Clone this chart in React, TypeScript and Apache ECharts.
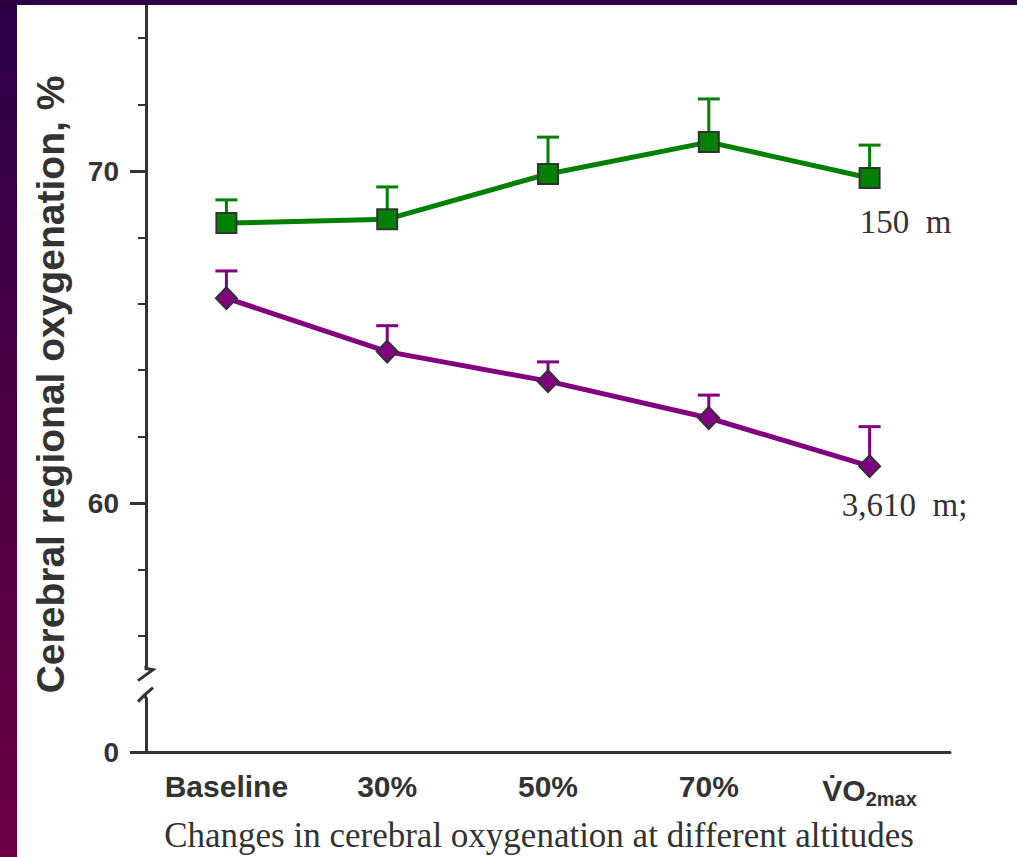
import React, { useEffect, useRef } from "react";
import * as echarts from "echarts";

const categories = ["Baseline", "30%", "50%", "70%", "VO2max"];
const seaLevelMean = [68.43, 68.55, 69.91, 70.87, 69.79];
const seaLevelUpper = [69.13, 69.52, 71.02, 72.17, 70.78];
const altitudeMean = [66.17, 64.56, 63.67, 62.56, 61.11];
const altitudeUpper = [66.99, 65.34, 64.25, 63.25, 62.3];
const minorTicks = [56, 58, 62, 64, 66, 68, 72, 74];
const labelTicks = [52.5, 60, 70];
const seaLabel = "150  m";
const altitudeLabel = "3,610  m;";

const Y_MIN = 52.5;
const Y_MAX = 75;
const GRID_LEFT = 146;

const SANS = "Liberation Sans, Arial, sans-serif";
const SERIF = "Liberation Serif, Times New Roman, serif";
const INK = "#333333";
const GREEN = "#008000";
const PURPLE = "#800080";

function errorBars(color: string, mean: number[], upper: number[]) {
  return {
    type: "custom",
    z: 1,
    data: mean.map((m, i) => [i, m, upper[i]]),
    renderItem: (params: any, api: any) => {
      const base = api.coord([api.value(0), api.value(1)]);
      const top = api.coord([api.value(0), api.value(2)]);
      const half = 11;
      return {
        type: "group",
        children: [
          {
            type: "line",
            shape: { x1: base[0], y1: base[1], x2: top[0], y2: top[1] },
            style: { stroke: color, lineWidth: 3 },
          },
          {
            type: "line",
            shape: { x1: top[0] - half, y1: top[1], x2: top[0] + half, y2: top[1] },
            style: { stroke: color, lineWidth: 3 },
          },
        ],
      };
    },
  };
}

function lineSeries(
  color: string,
  mean: number[],
  symbol: string,
  symbolSize: any,
  label: string,
  offset: number[]
) {
  return {
    type: "line",
    z: 3,
    data: mean.map((v, i) =>
      i === mean.length - 1
        ? {
            value: v,
            label: {
              show: true,
              position: "inside",
              offset,
              formatter: label,
              fontFamily: SERIF,
              fontSize: 33,
              color: INK,
            },
          }
        : v
    ),
    symbol,
    symbolSize,
    lineStyle: { color, width: 5 },
    itemStyle: { color, borderColor: INK, borderWidth: 2 },
    label: { show: false },
  };
}

export default function App() {
  const ref = useRef<HTMLDivElement>(null);

  useEffect(() => {
    if (!ref.current) return;
    const chart = echarts.init(ref.current, null, { renderer: "svg" });
    const option: any = {
      animation: false,
      backgroundColor: "#ffffff",
      grid: {
        left: GRID_LEFT,
        right: 67,
        top: 5,
        bottom: 105,
        containLabel: false,
        outerBoundsMode: "none",
      },
      xAxis: {
        type: "category",
        data: categories,
        boundaryGap: true,
        axisLine: { lineStyle: { color: INK, width: 3 } },
        axisTick: { inside: true, length: 7, lineStyle: { color: INK, width: 2 } },
        axisLabel: {
          interval: 0,
          margin: 19,
          color: INK,
          fontFamily: SANS,
          fontWeight: "bold",
          fontSize: 30,
          formatter: (v: string) =>
            v === "VO2max" ? "{v|V\u0307O}{s|2max}" : v,
          rich: {
            v: { fontFamily: SANS, fontWeight: "bold", fontSize: 30, color: INK },
            s: {
              fontFamily: SANS,
              fontWeight: "bold",
              fontSize: 20,
              color: INK,
              padding: [18, 0, 0, 0],
            },
          },
        },
        name: "Changes in cerebral oxygenation at different altitudes",
        nameLocation: "middle",
        nameGap: 66,
        nameTextStyle: {
          fontFamily: SERIF,
          fontSize: 35,
          color: INK,
          padding: [0, 18, 0, 0],
        },
        splitLine: { show: false },
      },
      yAxis: [
        {
          type: "value",
          min: Y_MIN,
          max: Y_MAX,
          axisLine: { show: true, lineStyle: { color: INK, width: 3 } },
          axisTick: {
            show: true,
            customValues: minorTicks,
            length: 8,
            lineStyle: { color: INK, width: 2 },
          },
          axisLabel: { show: false },
          splitLine: { show: false },
        },
        {
          type: "value",
          min: Y_MIN,
          max: Y_MAX,
          position: "left",
          axisLine: { show: false },
          axisTick: {
            show: true,
            customValues: labelTicks,
            length: 16,
            lineStyle: { color: INK, width: 3 },
          },
          axisLabel: {
            show: true,
            customValues: labelTicks,
            formatter: (v: number) => (v === Y_MIN ? "0" : String(v)),
            margin: 27,
            color: INK,
            fontFamily: SANS,
            fontWeight: "bold",
            fontSize: 28,
          },
          splitLine: { show: false },
          name: "Cerebral regional oxygenation, %",
          nameLocation: "middle",
          nameGap: 76,
          nameTextStyle: {
            fontFamily: SANS,
            fontWeight: "bold",
            fontSize: 39,
            color: INK,
            padding: [0, 12, 0, 0],
          },
        },
      ],
      series: [
        errorBars(GREEN, seaLevelMean, seaLevelUpper),
        errorBars(PURPLE, altitudeMean, altitudeUpper),
        lineSeries(GREEN, seaLevelMean, "rect", 20, seaLabel, [36, 44]),
        lineSeries(PURPLE, altitudeMean, "diamond", [21, 22], altitudeLabel, [35, 39]),
      ],
    };
    chart.setOption(option);

    const yb = chart.convertToPixel({ yAxisIndex: 0 }, 54.5) as number;
    const x = GRID_LEFT;
    const W = 1017;
    const H = 857;
    chart.setOption({
      graphic: [
        {
          type: "rect",
          left: 0,
          top: 0,
          z: 100,
          shape: { width: 17, height: H },
          style: {
            fill: new echarts.graphic.LinearGradient(0, 0, 0, 1, [
              { offset: 0, color: "#2b0046" },
              { offset: 1, color: "#6c0042" },
            ]),
          },
        },
        {
          type: "rect",
          left: 0,
          top: 0,
          z: 100,
          shape: { width: W, height: 5 },
          style: { fill: "#2f0044" },
        },
        {
          type: "rect",
          z: 100,
          shape: { x: x - 6, y: yb - 16, width: 14, height: 28 },
          style: { fill: "#ffffff" },
        },
        {
          type: "polyline",
          z: 101,
          shape: {
            points: [
              [x, yb - 20],
              [x, yb - 17],
              [x + 7, yb - 16],
              [x - 8, yb - 5],
            ],
          },
          style: { stroke: INK, lineWidth: 3, fill: "none" },
        },
        {
          type: "polyline",
          z: 101,
          shape: {
            points: [
              [x + 7, yb + 2],
              [x - 1, yb + 9],
              [x, yb + 13],
            ],
          },
          style: { stroke: INK, lineWidth: 3, fill: "none" },
        },
        {
          type: "line",
          z: 101,
          shape: { x1: x - 1, y1: yb + 9, x2: x - 8, y2: yb + 16 },
          style: { stroke: INK, lineWidth: 3 },
        },
      ],
    });

    return () => chart.dispose();
  }, []);

  return (
    <div
      ref={ref}
      style={{ position: "absolute", left: 0, top: 0, width: 1017, height: 857 }}
    />
  );
}
